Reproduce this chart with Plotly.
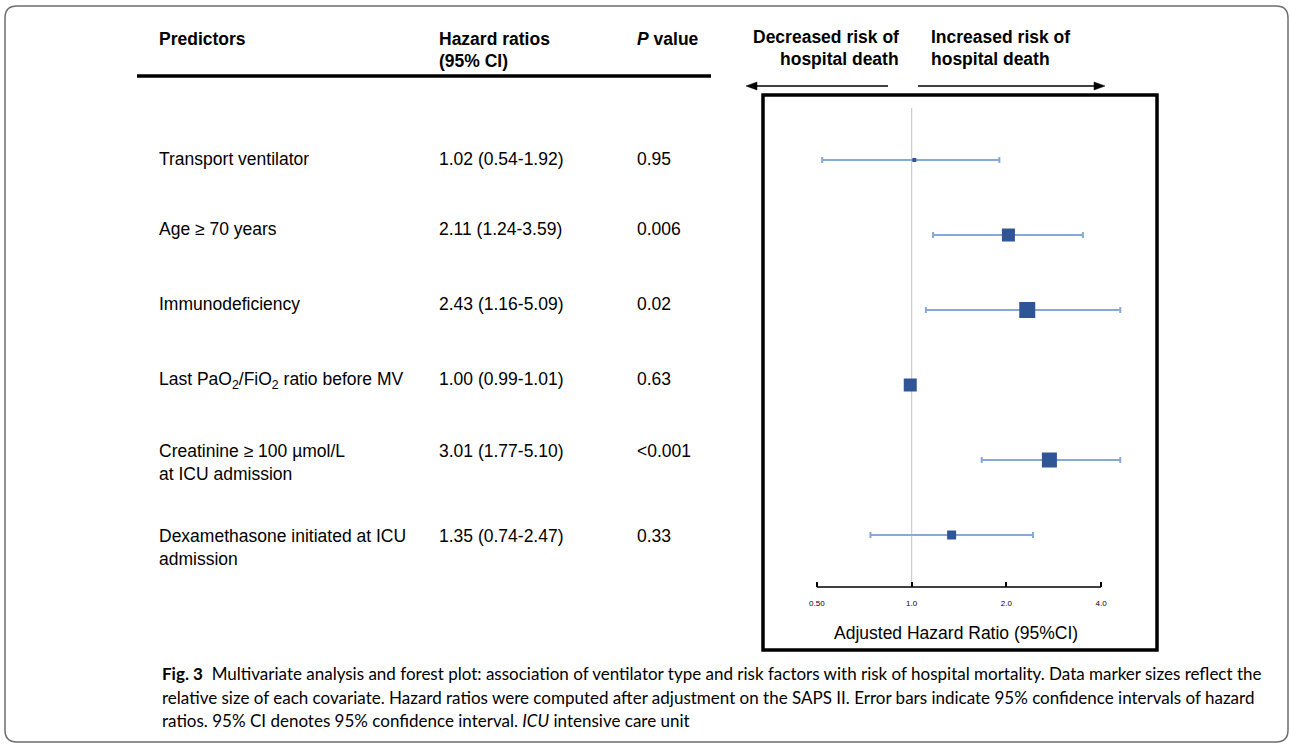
import plotly.graph_objects as go

# ---------------- data ----------------
predictors = [
    "Transport ventilator",
    "Age ≥ 70 years",
    "Immunodeficiency",
    "Last PaO<sub>2</sub>/FiO<sub>2</sub> ratio before MV",
    "Creatinine ≥ 100 µmol/L<br>at ICU admission",
    "Dexamethasone initiated at ICU<br>admission",
]
hr_labels = ["1.02 (0.54-1.92)", "2.11 (1.24-3.59)", "2.43 (1.16-5.09)",
             "1.00 (0.99-1.01)", "3.01 (1.77-5.10)", "1.35 (0.74-2.47)"]
p_labels = ["0.95", "0.006", "0.02", "0.63", "&lt;0.001", "0.33"]

# values as drawn in the forest plot
hr_plot = [1.02, 2.03, 2.33, 0.99, 2.74, 1.34]
lo_plot = [0.52, 1.17, 1.11, 0.98, 1.67, 0.74]
hi_plot = [1.90, 3.50, 4.60, 1.00, 4.60, 2.43]
marker_px = [4, 13, 16, 13, 15, 9]

tick_vals = [0.5, 1.0, 2.0, 4.0]
tick_text = ["0.50", "1.0", "2.0", "4.0"]

caption_lines = [
    "<b>Fig. 3</b>\u00a0\u00a0Multivariate analysis and forest plot: association of ventilator type and risk factors with risk of hospital mortality. Data marker sizes reflect the",
    "relative size of each covariate. Hazard ratios were computed after adjustment on the SAPS II. Error bars indicate 95% confidence intervals of hazard",
    "ratios. 95% CI denotes 95% confidence interval. <i>ICU</i> intensive care unit",
]

# ---------------- layout helpers ----------------
W, H = 1290, 744
def px(x):
    return x / W
def py(y):
    return 1 - y / H

ARIAL = "Liberation Sans, Arial, sans-serif"
FS = 17.5
PAD = 3

fig = go.Figure()
# error bars (drawn first, below the markers)
fig.add_trace(go.Scatter(
    x=hr_plot, y=predictors, mode="markers",
    marker=dict(size=1, opacity=0),
    error_x=dict(type="data", symmetric=False,
                 array=[h - m for h, m in zip(hi_plot, hr_plot)],
                 arrayminus=[m - l for m, l in zip(hr_plot, lo_plot)],
                 color="#86aad3", thickness=2, width=3),
    hoverinfo="skip", showlegend=False,
))
# point estimates
fig.add_trace(go.Scatter(
    x=hr_plot, y=predictors, mode="markers",
    marker=dict(symbol="square", size=marker_px, color="#2f5597", opacity=1, line=dict(width=0)),
    hoverinfo="skip", showlegend=False,
))

annotations = []
def text(x, y, s, size=FS, bold=False, xanchor="left", yanchor="middle", family=ARIAL):
    if xanchor == "left":
        x -= PAD
    elif xanchor == "right":
        x += PAD
    annotations.append(dict(
        x=px(x), y=py(y), xref="paper", yref="paper", text=("<b>%s</b>" % s) if bold else s,
        showarrow=False, xanchor=xanchor, yanchor=yanchor, align=xanchor if xanchor != "center" else "center",
        font=dict(family=family, size=size, color="black")))

# header
text(160, 39, "Predictors", bold=True)
text(440, 39, "Hazard ratios", bold=True)
text(440, 61, "(95% CI)", bold=True)
text(638, 39, "<i>P</i> value", bold=True)
text(898, 37, "Decreased risk of", bold=True, xanchor="right")
text(898, 59, "hospital death", bold=True, xanchor="right")
text(932, 37, "Increased risk of", bold=True)
text(932, 59, "hospital death", bold=True)

# table rows
row_y = [158, 228, 303, 378, 450, 535]
for i in range(len(predictors)):
    top = row_y[i] - 11
    text(160, top, predictors[i], yanchor="top")
    text(440, top, hr_labels[i], yanchor="top")
    text(638, top, p_labels[i], yanchor="top")

# axis title
text(956, 633, "Adjusted Hazard Ratio (95%CI)", xanchor="center")

# caption
cap_y = [673, 697, 720]
for s, y in zip(caption_lines, cap_y):
    text(163, y, s, size=17, family="Lato, sans-serif")

shapes = []
# outer rounded frame
r = 12
x0, x1, y0, y1 = 5, 1288, 6, 742
path = (f"M {px(x0+r)},{py(y0)} L {px(x1-r)},{py(y0)} Q {px(x1)},{py(y0)} {px(x1)},{py(y0+r)} "
        f"L {px(x1)},{py(y1-r)} Q {px(x1)},{py(y1)} {px(x1-r)},{py(y1)} "
        f"L {px(x0+r)},{py(y1)} Q {px(x0)},{py(y1)} {px(x0)},{py(y1-r)} "
        f"L {px(x0)},{py(y0+r)} Q {px(x0)},{py(y0)} {px(x0+r)},{py(y0)} Z")
shapes.append(dict(type="path", path=path, xref="paper", yref="paper",
                   line=dict(color="#6e6e6e", width=1.5), layer="below"))
# table header rule
shapes.append(dict(type="line", xref="paper", yref="paper", x0=px(137), x1=px(711), y0=py(76), y1=py(76),
                   line=dict(color="black", width=3.5)))
# direction arrows
AY = 86
shapes.append(dict(type="line", xref="paper", yref="paper", x0=px(888), x1=px(755), y0=py(AY), y1=py(AY),
                   line=dict(color="black", width=1.6)))
shapes.append(dict(type="path", xref="paper", yref="paper",
                   path=f"M {px(746)},{py(AY)} L {px(757)},{py(AY-4)} L {px(757)},{py(AY+4)} Z",
                   fillcolor="black", line=dict(color="black", width=0.5)))
shapes.append(dict(type="line", xref="paper", yref="paper", x0=px(918), x1=px(1095), y0=py(AY), y1=py(AY),
                   line=dict(color="black", width=1.6)))
shapes.append(dict(type="path", xref="paper", yref="paper",
                   path=f"M {px(1105)},{py(AY)} L {px(1094)},{py(AY-4)} L {px(1094)},{py(AY+4)} Z",
                   fillcolor="black", line=dict(color="black", width=0.5)))
# forest box
shapes.append(dict(type="rect", xref="paper", yref="paper", x0=px(763), x1=px(1157), y0=py(95), y1=py(650),
                   line=dict(color="black", width=3.5)))
# reference line at HR = 1
shapes.append(dict(type="line", xref="x", yref="y domain", x0=1.0, x1=1.0, y0=0, y1=1,
                   line=dict(color="#cccccc", width=1.2), layer="below"))
# x axis line between first and last tick
shapes.append(dict(type="line", xref="x", yref="y domain", x0=tick_vals[0], x1=tick_vals[-1], y0=0, y1=0,
                   line=dict(color="black", width=1.5)))

fig.update_layout(
    width=W, height=H, margin=dict(l=0, r=0, t=0, b=0),
    paper_bgcolor="white", plot_bgcolor="white",
    annotations=annotations, shapes=shapes,
    xaxis=dict(type="log", domain=[px(765), px(1155)], range=[-0.4658, 0.7732],
               tickvals=tick_vals, ticktext=tick_text, ticks="inside", ticklen=5,
               tickwidth=1.5, tickcolor="black", showline=False, showgrid=False, zeroline=False,
               tickfont=dict(family=ARIAL, size=8, color="black"), ticklabelstandoff=10),
    yaxis=dict(type="category", domain=[py(587), py(108)], range=[5.6933, -0.6933],
               showticklabels=False, showgrid=False, zeroline=False, showline=False, ticks=""),
)

fig.write_html("out.html", config={"displayModeBar": False},
               post_script="document.body.style.margin='0';document.body.style.overflow='hidden';")
